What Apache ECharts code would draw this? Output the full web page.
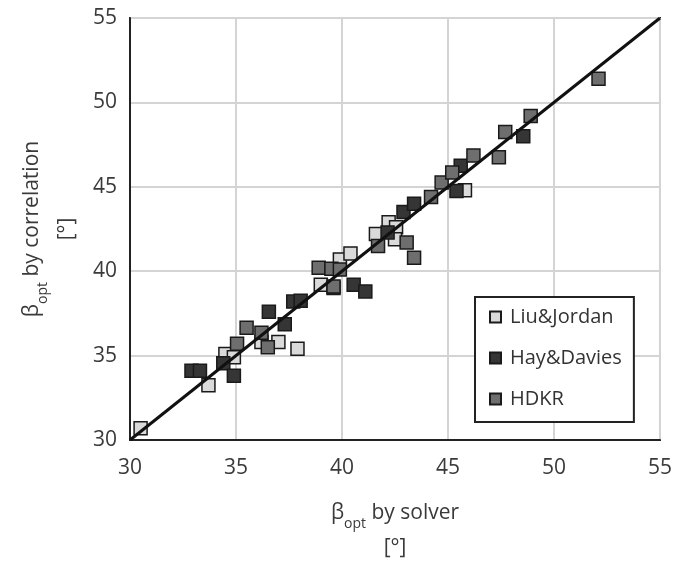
<!DOCTYPE html>
<html>
<head>
<meta charset="utf-8">
<script src="https://cdn.jsdelivr.net/npm/echarts@6/dist/echarts.min.js"></script>
<style>
  html, body { margin: 0; padding: 0; background: #fff; }
  #main { width: 675px; height: 570px; }
</style>
</head>
<body>
<div id="main"></div>
<script>
// axis range (degrees) and tick step
const axisMin = 30;
const axisMax = 55;
const tickStep = 5;

// [beta_opt by solver, beta_opt by correlation]
const liuJordan = [
    [30.5, 30.7], [33.7, 33.25], [34.5, 35.1], [34.9, 34.9], [36.2, 35.8],
    [37.0, 35.8], [37.9, 35.4], [39.0, 39.2], [39.9, 40.7], [40.4, 41.05],
    [41.6, 42.2], [42.2, 42.9], [42.55, 42.6], [42.5, 41.9], [45.8, 44.8]
];
const hayDavies = [
    [32.9, 34.1], [33.3, 34.1], [34.4, 34.55], [34.9, 33.8], [36.55, 37.6],
    [37.3, 36.85], [37.7, 38.2], [38.05, 38.25], [39.6, 39.0], [40.55, 39.2],
    [41.1, 38.8], [42.15, 42.3], [42.9, 43.5], [43.4, 44.0], [45.4, 44.75],
    [45.6, 46.25], [48.55, 48.0]
];
const hdkr = [
    [35.05, 35.7], [35.5, 36.65], [36.2, 36.35], [36.5, 35.5], [38.9, 40.2],
    [39.5, 40.15], [39.9, 40.1], [39.6, 39.1], [41.7, 41.5], [43.05, 41.7],
    [43.4, 40.8], [44.2, 44.4], [44.7, 45.25], [45.2, 45.85], [46.2, 46.85],
    [47.4, 46.75], [47.7, 48.25], [48.9, 49.2], [52.1, 51.4]
];

const FONT = '"Open Sans", "Noto Sans", sans-serif';
const TEXT = '#3a3a3a';
const nameRich = {
    n: { fontSize: 21, color: TEXT, fontFamily: FONT, verticalAlign: 'middle', lineHeight: 35 },
    s: { fontSize: 14, color: TEXT, fontFamily: FONT, verticalAlign: 'bottom', lineHeight: 35 }
};

function axisOf(name, gap, rotate, margin) {
    return {
        type: 'value',
        min: axisMin,
        max: axisMax,
        interval: tickStep,
        name: name,
        nameLocation: 'middle',
        nameGap: gap,
        nameRotate: rotate,
        nameTextStyle: { rich: nameRich },
        axisLine: { show: true, onZero: false, lineStyle: { color: '#222', width: 2 } },
        axisTick: { show: false },
        axisLabel: { fontSize: 21, color: TEXT, fontFamily: FONT, margin: margin },
        splitLine: { lineStyle: { color: '#d4d4d4', width: 2 } }
    };
}

function scatter(name, data, color) {
    return {
        name: name,
        type: 'scatter',
        data: data,
        symbol: 'rect',
        symbolSize: 13,
        itemStyle: { color: color, borderColor: '#1a1a1a', borderWidth: 1.5, opacity: 1 }
    };
}

const chart = echarts.init(document.getElementById('main'));
chart.setOption({
    animation: false,
    backgroundColor: '#fff',
    grid: {
        left: 130, right: 14, top: 18, bottom: 130,
        show: true, borderColor: '#222', borderWidth: 2
    },
    xAxis: axisOf('{n|β}{s|opt}{n| by solver}\n{n|[°]}', 56, 0, 18),
    yAxis: axisOf('{n|β}{s|opt}{n| by correlation}\n{n|[°]}', 45, 90, 13),
    legend: {
        data: ['Liu&Jordan', 'Hay&Davies', 'HDKR'],
        orient: 'vertical',
        left: 475,
        top: 297,
        padding: [10, 12, 13, 14],
        itemGap: 21,
        itemWidth: 11,
        itemHeight: 11,
        backgroundColor: '#fff',
        borderColor: '#222',
        borderWidth: 2,
        borderRadius: 0,
        textStyle: { fontSize: 20, color: '#333', fontFamily: FONT, padding: [0, 0, 0, 4] }
    },
    series: [
        scatter('Liu&Jordan', liuJordan, '#dadada'),
        scatter('Hay&Davies', hayDavies, '#353535'),
        scatter('HDKR', hdkr, '#6e6e6e'),
        {
            name: 'y = x',
            type: 'line',
            data: [[axisMin, axisMin], [axisMax, axisMax]],
            symbol: 'none',
            silent: true,
            z: 5,
            lineStyle: { color: '#111', width: 3 }
        }
    ]
});
</script>
</body>
</html>
